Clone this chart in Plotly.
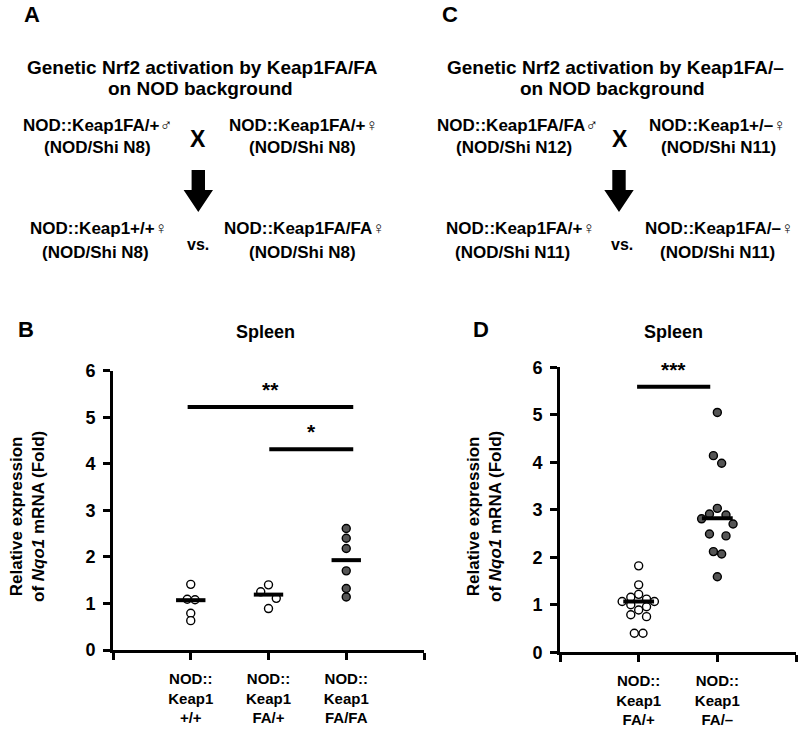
import plotly.graph_objects as go

# ---------------- data ----------------
b_labels = ["NOD::<br>Keap1<br>+/+", "NOD::<br>Keap1<br>FA/+", "NOD::<br>Keap1<br>FA/FA"]
b_vals_pp = [1.41, 1.09, 1.08, 0.79, 0.63]
b_dx_pp = [0.0, -0.045, 0.055, 0.0, 0.0]
b_vals_fa = [1.40, 1.25, 1.11, 0.89]
b_dx_fa = [0.0, -0.10, 0.10, 0.0]
b_vals_fafa = [2.61, 2.40, 2.18, 1.70, 1.32, 1.14]
b_dx_fafa = [0, 0, 0, 0, 0, 0]
b_means = [1.07, 1.19, 1.93]
b_sig_x0 = [-0.04, 1.01]
b_sig_x1 = [2.09, 2.09]
b_sig_y = [5.22, 4.31]
b_sig_txt = ["**", "*"]

d_labels = ["NOD::<br>Keap1<br>FA/+", "NOD::<br>Keap1<br>FA/–"]
d_vals_fa = [1.82, 1.42, 1.22, 1.16, 1.12, 1.07, 1.07, 1.00, 0.96, 0.89, 0.79, 0.75, 0.40, 0.40]
d_dx_fa = [0, 0, 0, -0.10, 0.10, -0.21, 0.20, -0.10, 0.10, 0, -0.10, 0.10, -0.055, 0.055]
d_vals_fam = [5.05, 4.14, 3.98, 3.03, 2.91, 2.89, 2.81, 2.70, 2.49, 2.45, 2.12, 2.07, 1.59]
d_dx_fam = [0, -0.05, 0.055, 0, -0.10, 0.11, -0.20, 0.20, -0.10, 0.11, -0.05, 0.055, 0]
d_means = [1.07, 2.82]
d_sig_x0 = [-0.02]
d_sig_x1 = [0.91]
d_sig_y = [5.59]
d_sig_txt = ["***"]

y_ticks = [0, 1, 2, 3, 4, 5, 6]

# ---------------- style ----------------
FONT = "Liberation Sans, Arial, sans-serif"
W, H = 800, 733
OPEN = dict(color="white", size=8, line=dict(color="black", width=1.4))
FILL = dict(color="#555555", size=8, line=dict(color="black", width=1.4))
MALE = '</b><span style="font-size:17px">♂</span>'
FEMALE = '</b><span style="font-size:17px">♀</span>'


def px(x):
    return x / W


def py(y):
    return 1 - y / H


fig = go.Figure()


def add_group(xref, yref, gi, vals, dx, mk):
    fig.add_trace(go.Scatter(
        x=[gi + d for d in dx], y=vals, mode="markers", marker=mk,
        xaxis=xref, yaxis=yref, hoverinfo="skip", cliponaxis=False))


def add_sig(xref, yref, x0s, x1s, ys, txts):
    for x0, x1, y, t in zip(x0s, x1s, ys, txts):
        fig.add_trace(go.Scatter(x=[x0, x1], y=[y, y], mode="lines",
                                 line=dict(color="black", width=4),
                                 xaxis=xref, yaxis=yref, hoverinfo="skip", cliponaxis=False))
        fig.add_annotation(x=(x0 + x1) / 2, y=y, xref=xref, yref=yref, text="<b>%s</b>" % t,
                           showarrow=False, yanchor="bottom", yshift=4,
                           font=dict(family=FONT, size=21, color="black"))


# panel B
add_group("x", "y", 0, b_vals_pp, b_dx_pp, OPEN)
add_group("x", "y", 1, b_vals_fa, b_dx_fa, OPEN)
add_group("x", "y", 2, b_vals_fafa, b_dx_fafa, FILL)
fig.add_trace(go.Scatter(x=list(range(len(b_means))), y=b_means, mode="markers",
                         marker=dict(symbol="line-ew", size=21, line=dict(color="black", width=4)),
                         xaxis="x", yaxis="y", hoverinfo="skip"))
add_sig("x", "y", b_sig_x0, b_sig_x1, b_sig_y, b_sig_txt)

# panel D
add_group("x2", "y2", 0, d_vals_fa, d_dx_fa, OPEN)
add_group("x2", "y2", 1, d_vals_fam, d_dx_fam, FILL)
fig.add_trace(go.Scatter(x=list(range(len(d_means))), y=d_means, mode="markers",
                         marker=dict(symbol="line-ew", size=22, line=dict(color="black", width=4)),
                         xaxis="x2", yaxis="y2", hoverinfo="skip"))
add_sig("x2", "y2", d_sig_x0, d_sig_x1, d_sig_y, d_sig_txt)

ytickfont = dict(family=FONT, size=18, color="black", weight="bold")
xtickfont = dict(family=FONT, size=15, color="black", weight="bold")
common_x = dict(showline=True, linewidth=3, linecolor="black", ticks="outside", ticklen=7,
                tickwidth=3, tickcolor="black", showgrid=False, zeroline=False,
                tickfont=xtickfont, ticklabelstandoff=6, fixedrange=True, automargin=False)
common_y = dict(showline=True, linewidth=3, linecolor="black", ticks="outside", ticklen=7,
                tickwidth=3, tickcolor="black", showgrid=False, zeroline=False,
                tickfont=ytickfont, range=[0, 6], tickvals=y_ticks,
                ticktext=[str(v) for v in y_ticks], ticklabelstandoff=4, fixedrange=True,
                automargin=False)

fig.update_layout(
    width=W, height=H, margin=dict(l=0, r=0, t=0, b=0, pad=0), autosize=False,
    paper_bgcolor="white", plot_bgcolor="white", showlegend=False,
    font=dict(family=FONT, color="black"),
    xaxis=dict(common_x, domain=[px(113), px(424)], range=[-1, 3],
               tickvals=[-1, 0, 1, 2, 3], ticktext=[""] + b_labels + [""], anchor="y"),
    yaxis=dict(common_y, domain=[py(650), py(370.7)], anchor="x"),
    xaxis2=dict(common_x, domain=[px(560), px(796)], range=[-1, 2],
                tickvals=[-1, 0, 1, 2], ticktext=[""] + d_labels + [""], anchor="y2"),
    yaxis2=dict(common_y, domain=[py(652.3), py(367.3)], anchor="x2"),
)

# ---------------- text (top schematic panels & labels) ----------------
texts = [
    ("A", 32, 15, 22), ("C", 450, 15, 22), ("B", 26, 329, 22), ("D", 481, 329, 22),
    ("Spleen", 265, 332, 18), ("Spleen", 673, 332, 18),
    ("Genetic Nrf2 activation by Keap1FA/FA", 202, 67, 19),
    ("on NOD background", 201, 88, 19),
    ("NOD::Keap1FA/+" + MALE, 97, 125, 17), ("(NOD/Shi N8)", 97, 147, 17),
    ("NOD::Keap1FA/+" + FEMALE, 303, 125, 17), ("(NOD/Shi N8)", 302, 147, 17),
    ("X", 198, 139, 23), ("vs.", 198, 244, 16),
    ("NOD::Keap1+/+" + FEMALE, 98, 229, 17), ("(NOD/Shi N8)", 95, 253, 17),
    ("NOD::Keap1FA/FA" + FEMALE, 304, 229, 17), ("(NOD/Shi N8)", 302, 253, 17),
    ("Genetic Nrf2 activation by Keap1FA/–", 615, 67, 19),
    ("on NOD background", 612, 88, 19),
    ("NOD::Keap1FA/FA" + MALE, 517, 125, 17), ("(NOD/Shi N12)", 514, 147, 17),
    ("NOD::Keap1+/–" + FEMALE, 717, 125, 17), ("(NOD/Shi N11)", 718, 147, 17),
    ("X", 620, 139, 23), ("vs.", 622, 244, 16),
    ("NOD::Keap1FA/+" + FEMALE, 520, 229, 17), ("(NOD/Shi N11)", 512, 253, 17),
    ("NOD::Keap1FA/–" + FEMALE, 719, 229, 17), ("(NOD/Shi N11)", 717, 253, 17),
]
for t, x, y, s in texts:
    txt = "<b>%s" % t if "</b>" in t else "<b>%s</b>" % t
    fig.add_annotation(x=px(x), y=py(y), xref="paper", yref="paper", text=txt,
                       showarrow=False, xanchor="center", yanchor="middle",
                       font=dict(family=FONT, size=s, color="black"))

# y axis titles
for x, y in [(27, 517), (484, 517)]:
    fig.add_annotation(x=px(x), y=py(y), xref="paper", yref="paper",
                       text="<b>Relative expression<br>of <i>Nqo1</i> mRNA (Fold)</b>",
                       textangle=-90, showarrow=False, xanchor="center", yanchor="middle",
                       font=dict(family=FONT, size=17, color="black"))

# down arrows
for cx in [198.3, 619]:
    pts = [(cx - 6.7, 170), (cx + 6.7, 170), (cx + 6.7, 190), (cx + 14.7, 190),
           (cx, 212), (cx - 14.7, 190), (cx - 6.7, 190)]
    path = "M " + " L ".join("%f,%f" % (px(a), py(b)) for a, b in pts) + " Z"
    fig.add_shape(type="path", path=path, xref="paper", yref="paper",
                  fillcolor="black", line=dict(color="black", width=0))

fig.write_html("out.html", config={"displayModeBar": False},
               post_script="document.body.style.margin='0';")
